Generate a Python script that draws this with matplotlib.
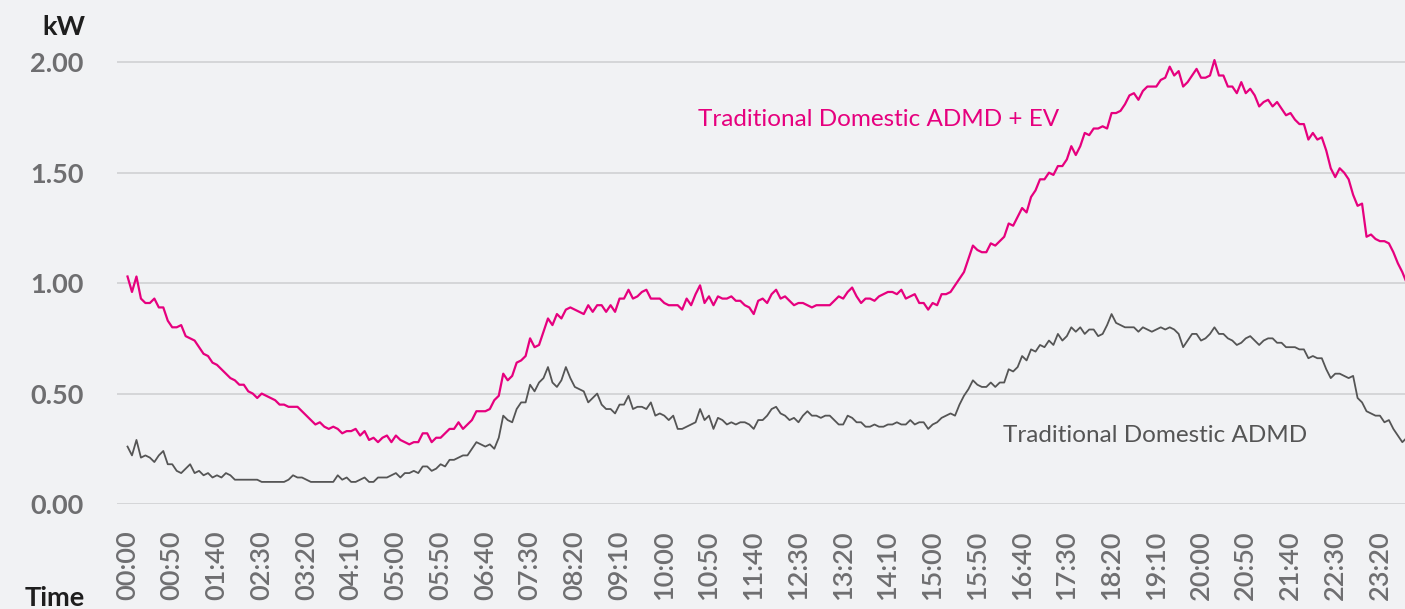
import numpy as np
import matplotlib
matplotlib.use("Agg")
import matplotlib.pyplot as plt

plt.rcParams['font.family'] = ['Lato', 'DejaVu Sans']

# 5-minute readings over one day (kW)
times = ["%02d:%02d" % (m // 60, m % 60) for m in range(0, 24 * 60, 5)]

admd_ev = [1.03, 0.96, 1.03, 0.93, 0.91, 0.91, 0.93, 0.89, 0.89, 0.83,
           0.80, 0.80, 0.81, 0.76, 0.75, 0.74, 0.71, 0.68, 0.67, 0.64,
           0.63, 0.61, 0.59, 0.57, 0.56, 0.54, 0.54, 0.51, 0.50, 0.48,
           0.50, 0.49, 0.48, 0.47, 0.45, 0.45, 0.44, 0.44, 0.44, 0.42,
           0.40, 0.38, 0.36, 0.37, 0.35, 0.34, 0.35, 0.34, 0.32, 0.33,
           0.33, 0.34, 0.31, 0.33, 0.29, 0.30, 0.28, 0.30, 0.31, 0.28,
           0.31, 0.29, 0.28, 0.27, 0.28, 0.28, 0.32, 0.32, 0.28, 0.30,
           0.30, 0.32, 0.34, 0.34, 0.37, 0.34, 0.36, 0.38, 0.42, 0.42,
           0.42, 0.43, 0.47, 0.49, 0.59, 0.56, 0.58, 0.64, 0.65, 0.67,
           0.75, 0.71, 0.72, 0.78, 0.84, 0.81, 0.86, 0.84, 0.88, 0.89,
           0.88, 0.87, 0.86, 0.90, 0.87, 0.90, 0.90, 0.87, 0.90, 0.87,
           0.93, 0.93, 0.97, 0.93, 0.94, 0.96, 0.97, 0.93, 0.93, 0.93,
           0.91, 0.90, 0.90, 0.90, 0.88, 0.93, 0.90, 0.95, 0.99, 0.91,
           0.94, 0.90, 0.94, 0.93, 0.93, 0.94, 0.92, 0.92, 0.90, 0.89,
           0.86, 0.92, 0.93, 0.91, 0.95, 0.97, 0.93, 0.94, 0.92, 0.90,
           0.91, 0.91, 0.90, 0.89, 0.90, 0.90, 0.90, 0.90, 0.92, 0.94,
           0.93, 0.96, 0.98, 0.94, 0.91, 0.93, 0.93, 0.92, 0.94, 0.95,
           0.96, 0.96, 0.95, 0.97, 0.93, 0.94, 0.95, 0.91, 0.91, 0.88,
           0.91, 0.90, 0.95, 0.95, 0.96, 0.99, 1.02, 1.05, 1.11, 1.17,
           1.15, 1.14, 1.14, 1.18, 1.17, 1.19, 1.21, 1.27, 1.26, 1.30,
           1.34, 1.32, 1.39, 1.42, 1.47, 1.47, 1.50, 1.49, 1.53, 1.53,
           1.56, 1.62, 1.58, 1.62, 1.68, 1.67, 1.70, 1.70, 1.71, 1.70,
           1.77, 1.77, 1.78, 1.81, 1.85, 1.86, 1.83, 1.87, 1.89, 1.89,
           1.89, 1.92, 1.93, 1.98, 1.94, 1.96, 1.89, 1.91, 1.94, 1.97,
           1.93, 1.93, 1.94, 2.01, 1.94, 1.94, 1.89, 1.89, 1.86, 1.91,
           1.86, 1.88, 1.85, 1.80, 1.82, 1.83, 1.80, 1.82, 1.79, 1.76,
           1.77, 1.74, 1.72, 1.72, 1.65, 1.68, 1.65, 1.66, 1.60, 1.52,
           1.48, 1.52, 1.50, 1.47, 1.40, 1.35, 1.36, 1.21, 1.22, 1.20,
           1.19, 1.19, 1.18, 1.14, 1.09, 1.05, 1.00, 0.99]

admd = [0.26, 0.22, 0.29, 0.21, 0.22, 0.21, 0.19, 0.22, 0.24, 0.18,
        0.18, 0.15, 0.14, 0.16, 0.18, 0.14, 0.15, 0.13, 0.14, 0.12,
        0.13, 0.12, 0.14, 0.13, 0.11, 0.11, 0.11, 0.11, 0.11, 0.11,
        0.10, 0.10, 0.10, 0.10, 0.10, 0.10, 0.11, 0.13, 0.12, 0.12,
        0.11, 0.10, 0.10, 0.10, 0.10, 0.10, 0.10, 0.13, 0.11, 0.12,
        0.10, 0.10, 0.11, 0.12, 0.10, 0.10, 0.12, 0.12, 0.12, 0.13,
        0.14, 0.12, 0.14, 0.14, 0.15, 0.14, 0.17, 0.17, 0.15, 0.16,
        0.18, 0.17, 0.20, 0.20, 0.21, 0.22, 0.22, 0.25, 0.28, 0.27,
        0.26, 0.27, 0.25, 0.30, 0.40, 0.38, 0.37, 0.43, 0.46, 0.46,
        0.54, 0.51, 0.55, 0.57, 0.62, 0.55, 0.53, 0.56, 0.62, 0.57,
        0.53, 0.52, 0.51, 0.46, 0.48, 0.50, 0.45, 0.43, 0.43, 0.41,
        0.45, 0.45, 0.49, 0.43, 0.44, 0.44, 0.43, 0.46, 0.40, 0.41,
        0.40, 0.38, 0.40, 0.34, 0.34, 0.35, 0.36, 0.37, 0.43, 0.38,
        0.40, 0.34, 0.39, 0.38, 0.36, 0.37, 0.36, 0.37, 0.37, 0.36,
        0.34, 0.38, 0.38, 0.40, 0.43, 0.44, 0.41, 0.40, 0.38, 0.39,
        0.37, 0.40, 0.42, 0.40, 0.40, 0.39, 0.40, 0.40, 0.38, 0.36,
        0.36, 0.40, 0.39, 0.37, 0.37, 0.35, 0.35, 0.36, 0.35, 0.35,
        0.36, 0.36, 0.37, 0.36, 0.36, 0.38, 0.36, 0.37, 0.37, 0.34,
        0.36, 0.37, 0.39, 0.40, 0.41, 0.40, 0.45, 0.49, 0.52, 0.56,
        0.54, 0.53, 0.53, 0.55, 0.53, 0.55, 0.55, 0.61, 0.60, 0.62,
        0.67, 0.65, 0.70, 0.69, 0.72, 0.71, 0.74, 0.72, 0.77, 0.74,
        0.76, 0.80, 0.78, 0.80, 0.77, 0.79, 0.79, 0.76, 0.77, 0.81,
        0.86, 0.82, 0.81, 0.80, 0.80, 0.80, 0.78, 0.80, 0.79, 0.78,
        0.79, 0.80, 0.79, 0.80, 0.79, 0.77, 0.71, 0.74, 0.77, 0.77,
        0.74, 0.75, 0.77, 0.80, 0.77, 0.77, 0.75, 0.74, 0.72, 0.73,
        0.75, 0.76, 0.74, 0.72, 0.74, 0.75, 0.75, 0.73, 0.73, 0.71,
        0.71, 0.71, 0.70, 0.70, 0.66, 0.67, 0.66, 0.66, 0.61, 0.57,
        0.59, 0.59, 0.58, 0.57, 0.58, 0.48, 0.46, 0.42, 0.41, 0.40,
        0.40, 0.37, 0.38, 0.34, 0.31, 0.28, 0.30, 0.27]

y_ticks = [0, 0.5, 1.0, 1.5, 2.0]

bg = "#f1f2f4"
pink = "#e6007e"
grey = "#555555"
label_grey = "#6e6e70"

fig = plt.figure(figsize=(14.05, 6.09), dpi=100, facecolor=bg)
ax = fig.add_axes([117 / 1405, 105 / 609, 1288 / 1405, 455 / 609], facecolor=bg)

x = np.arange(len(times))
ax.plot(x, admd, color=grey, lw=1.3, zorder=3)
ax.plot(x, admd_ev, color=pink, lw=1.6, zorder=4)

ax.set_xlim(-2.35, 285.6)
ax.set_ylim(0, 2.06)

ax.set_yticks(y_ticks)
ax.set_yticklabels(["%.2f" % v for v in y_ticks], fontsize=19.5, fontweight="bold", color=label_grey)
ax.set_xticks(x[::10])
ax.set_xticklabels(times[::10], rotation=90, fontsize=19.5, fontweight="semibold", color=label_grey)
ax.tick_params(axis="y", length=0, pad=24)
ax.tick_params(axis="x", length=0, pad=19)

ax.grid(axis="y", color="#d3d4d6", lw=1.3, zorder=0)
ax.grid(axis="x", visible=False)
for s in ax.spines.values():
    s.set_visible(False)

# series labels sit next to the lines
ax.text(127.5, 1.74, "Traditional Domestic ADMD + EV", color=pink, fontsize=17.5,
        fontweight="normal", va="center", ha="left")
ax.text(195.7, 0.31, "Traditional Domestic ADMD", color=grey, fontsize=17.5,
        fontweight="normal", va="center", ha="left")

fig.text(85 / 1405, 1 - 27 / 609, "kW", fontsize=19.5, fontweight="bold", color="#1e1e1e", ha="right", va="center")
fig.text(85 / 1405, 1 - 598 / 609, "Time", fontsize=19.5, fontweight="bold", color="#1e1e1e", ha="right", va="center")

fig.savefig("out.png", dpi=100, facecolor=bg)
